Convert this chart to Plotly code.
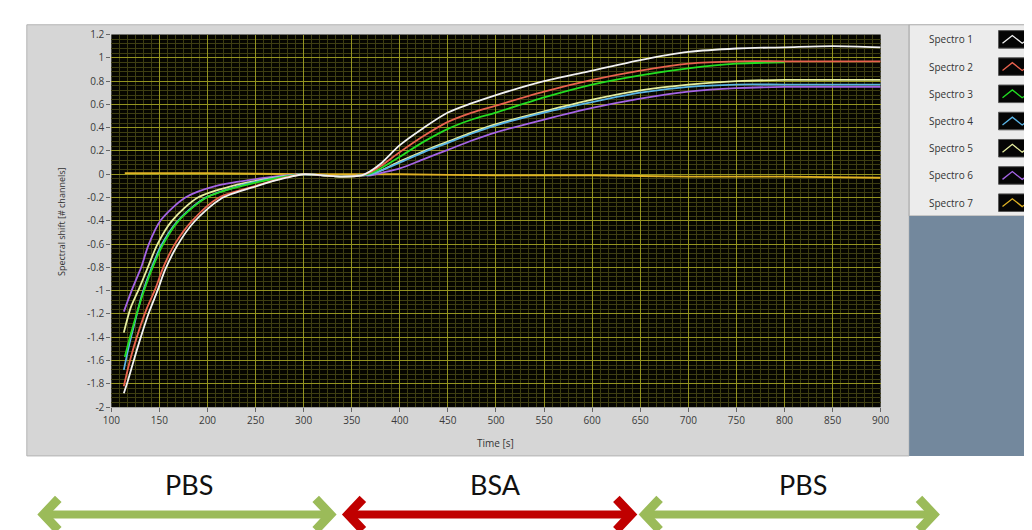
import plotly.graph_objects as go

# ---------------- data ----------------
series_names = ["Spectro 1", "Spectro 2", "Spectro 3", "Spectro 4", "Spectro 5", "Spectro 6", "Spectro 7"]

t1 = [113, 117, 124, 131, 139, 148, 156, 168, 186, 214, 252, 282, 300, 320, 340, 360, 370, 380, 400, 425, 450, 475, 500, 550, 600, 650, 700, 750, 800, 850, 900]
v1 = [-1.88, -1.78, -1.58, -1.39, -1.19, -1.0, -0.82, -0.62, -0.41, -0.21, -0.1, -0.03, 0.0, -0.01, -0.02, -0.01, 0.03, 0.09, 0.25, 0.40, 0.53, 0.61, 0.68, 0.80, 0.89, 0.98, 1.05, 1.08, 1.09, 1.10, 1.09]

t2 = [113, 120, 128, 137, 146, 154, 166, 184, 212, 250, 280, 300, 320, 340, 360, 370, 380, 400, 425, 450, 475, 500, 550, 600, 650, 700, 750, 800, 850, 900]
v2 = [-1.82, -1.58, -1.36, -1.15, -0.98, -0.8, -0.6, -0.4, -0.2, -0.1, -0.03, 0.0, -0.01, -0.02, -0.01, 0.02, 0.07, 0.19, 0.33, 0.45, 0.53, 0.59, 0.71, 0.81, 0.89, 0.95, 0.97, 0.97, 0.97, 0.97]

t3 = [114, 120, 127, 134, 143, 154, 170, 199, 236, 275, 300, 320, 340, 360, 370, 380, 400, 425, 450, 475, 500, 550, 600, 650, 700, 750, 800]
v3 = [-1.57, -1.38, -1.18, -1.0, -0.8, -0.6, -0.4, -0.2, -0.1, -0.03, 0.0, -0.01, -0.02, -0.01, 0.01, 0.05, 0.15, 0.28, 0.39, 0.47, 0.53, 0.66, 0.77, 0.85, 0.91, 0.95, 0.96]

t4 = [113, 119, 126, 132, 141, 152, 168, 196, 233, 272, 300, 320, 340, 360, 370, 380, 400, 425, 450, 475, 500, 550, 600, 650, 700, 750, 800, 850, 900]
v4 = [-1.68, -1.45, -1.22, -1.03, -0.82, -0.61, -0.41, -0.21, -0.1, -0.03, 0.0, -0.01, -0.02, -0.01, 0.0, 0.03, 0.10, 0.19, 0.27, 0.35, 0.42, 0.53, 0.62, 0.70, 0.75, 0.77, 0.77, 0.77, 0.77]

t5 = [113, 120, 129, 138, 148, 163, 190, 226, 270, 300, 320, 340, 360, 370, 380, 400, 425, 450, 475, 500, 550, 600, 650, 700, 750, 800, 850, 900]
v5 = [-1.36, -1.15, -0.98, -0.8, -0.6, -0.4, -0.2, -0.1, -0.03, 0.0, -0.01, -0.02, -0.01, 0.0, 0.03, 0.11, 0.20, 0.28, 0.36, 0.43, 0.54, 0.64, 0.72, 0.77, 0.80, 0.81, 0.81, 0.81]

t6 = [113, 122, 131, 139, 151, 177, 209, 261, 300, 320, 340, 360, 370, 380, 400, 425, 450, 475, 500, 550, 600, 650, 700, 750, 800, 850, 900]
v6 = [-1.18, -0.98, -0.8, -0.6, -0.4, -0.2, -0.1, -0.03, 0.0, -0.01, -0.02, -0.01, -0.01, 0.01, 0.05, 0.13, 0.21, 0.29, 0.36, 0.47, 0.57, 0.65, 0.71, 0.74, 0.75, 0.75, 0.75]

t7 = [114, 200, 300, 400, 500, 600, 700, 800, 900]
v7 = [0.01, 0.01, 0.0, 0.0, -0.01, -0.01, -0.02, -0.02, -0.03]

times = [t1, t2, t3, t4, t5, t6, t7]
values = [v1, v2, v3, v4, v5, v6, v7]
colors = ["#f2f2f2", "#e8624e", "#22dd22", "#5ab4e6", "#e6eea0", "#a464e4", "#e0b224"]

y_tickvals = [1.2, 1.0, 0.8, 0.6, 0.4, 0.2, 0.0, -0.2, -0.4, -0.6, -0.8, -1.0, -1.2, -1.4, -1.6, -1.8, -2.0]
y_ticktext = ["1.2", "1", "0.8", "0.6", "0.4", "0.2", "0", "-0.2", "-0.4", "-0.6", "-0.8", "-1", "-1.2", "-1.4", "-1.6", "-1.8", "-2"]
x_tickvals = [100, 150, 200, 250, 300, 350, 400, 450, 500, 550, 600, 650, 700, 750, 800, 850, 900]

phase_labels = ["PBS", "BSA", "PBS"]
phase_colors = ["#9bbb59", "#c00000", "#9bbb59"]

# ---------------- figure ----------------
W, H = 1032, 530
def px(x):
    return x / W
def py(y):
    return 1 - y / H

fig = go.Figure()
order = [6, 5, 4, 3, 2, 1, 0]
for i in order:
    fig.add_trace(go.Scatter(
        x=times[i], y=values[i], name=series_names[i], mode="lines",
        line=dict(color=colors[i], width=1.8, shape="spline", smoothing=0.8),
    ))

tick_font = dict(family="Open Sans, DejaVu Sans", size=10, color="#3a3a3a")

fig.update_layout(
    width=W, height=H,
    margin=dict(l=0, r=0, t=0, b=0),
    paper_bgcolor="white",
    plot_bgcolor="#060600",
    showlegend=False,
    xaxis=dict(
        domain=[px(96), px(879)], range=[100, 900],
        tickvals=x_tickvals, ticks="outside", ticklen=4, tickcolor="#666",
        tickfont=tick_font, showgrid=True, gridcolor="#949420", gridwidth=1,
        zeroline=False, showline=False,
        minor=dict(dtick=50 / 6, tick0=100, showgrid=True, gridcolor="#3e3e12", gridwidth=1, ticks=""),
    ),
    yaxis=dict(
        domain=[py(402), py(20)], range=[-2, 1.2],
        tickvals=y_tickvals, ticktext=y_ticktext, ticks="outside", ticklen=4, tickcolor="#666",
        tickfont=tick_font, showgrid=True, gridcolor="#949420", gridwidth=1,
        zeroline=False, showline=False,
        minor=dict(dtick=0.04, tick0=0, showgrid=True, gridcolor="#3e3e12", gridwidth=1, ticks=""),
    ),
)

shapes = []
# grey instrument panel
shapes.append(dict(type="rect", xref="paper", yref="paper", x0=px(10), x1=px(908), y0=py(452), y1=py(10),
                   fillcolor="#d6d6d6", line=dict(color="#b4b4b4", width=1), layer="below"))
# black plot area (drawn over the panel, under the grid)
shapes.append(dict(type="rect", xref="x domain", yref="y domain", x0=0, x1=1, y0=0, y1=1,
                   fillcolor="#060600", line=dict(width=0), layer="below"))
# legend panel
shapes.append(dict(type="rect", xref="paper", yref="paper", x0=px(908), x1=px(1032), y0=py(206), y1=py(10),
                   fillcolor="#ececec", line=dict(color="#a8a8a8", width=1), layer="below"))
# blue-grey area under legend
shapes.append(dict(type="rect", xref="paper", yref="paper", x0=px(908), x1=px(1032), y0=py(452), y1=py(206),
                   fillcolor="#73889d", line=dict(width=0), layer="below"))

annotations = []
for k, name in enumerate(series_names):
    yc = 25 + k * 27.9
    shapes.append(dict(type="rect", xref="paper", yref="paper", x0=px(999), x1=px(1033), y0=py(yc + 9), y1=py(yc - 9),
                       fillcolor="#050505", line=dict(color="#555", width=1)))
    path = "M {} {} L {} {} L {} {} L {} {}".format(px(1003), py(yc + 4), px(1013), py(yc - 4),
                                                   px(1023), py(yc + 4), px(1033), py(yc - 3))
    shapes.append(dict(type="path", xref="paper", yref="paper", path=path, line=dict(color=colors[k], width=1.3)))
    annotations.append(dict(x=px(926), y=py(yc), xref="paper", yref="paper", text=name, showarrow=False,
                            xanchor="left", yanchor="middle",
                            font=dict(family="Open Sans, DejaVu Sans", size=10, color="#333")))

# axis titles
annotations.append(dict(x=px(46), y=py(212), xref="paper", yref="paper", text="Spectral shift [# channels]",
                        showarrow=False, textangle=-90, xanchor="center", yanchor="middle",
                        font=dict(family="Open Sans, DejaVu Sans", size=9, color="#333")))
annotations.append(dict(x=px(487), y=py(439), xref="paper", yref="paper", text="Time [s]",
                        showarrow=False, xanchor="center", yanchor="middle",
                        font=dict(family="Open Sans, DejaVu Sans", size=10, color="#333")))

# phase arrows and labels
arrow_spans = [(24, 322), (334, 628), (636, 936)]
label_x = [175, 487, 800]
for (xa, xb), c, lab, lx in zip(arrow_spans, phase_colors, phase_labels, label_x):
    yc = 512
    shapes.append(dict(type="line", xref="paper", yref="paper", x0=px(xa + 6), x1=px(xb - 6), y0=py(yc), y1=py(yc),
                       line=dict(color=c, width=8)))
    left = "M {} {} L {} {} L {} {}".format(px(xa + 18), py(yc - 16), px(xa + 3), py(yc), px(xa + 18), py(yc + 16))
    right = "M {} {} L {} {} L {} {}".format(px(xb - 18), py(yc - 16), px(xb - 3), py(yc), px(xb - 18), py(yc + 16))
    shapes.append(dict(type="path", xref="paper", yref="paper", path=left, line=dict(color=c, width=9)))
    shapes.append(dict(type="path", xref="paper", yref="paper", path=right, line=dict(color=c, width=9)))
    annotations.append(dict(x=px(lx), y=py(481), xref="paper", yref="paper", text=lab, showarrow=False,
                            xanchor="center", yanchor="middle",
                            font=dict(family="Lato, Open Sans", size=27, color="#111")))

fig.update_layout(shapes=shapes, annotations=annotations)
fig.write_html("out.html")
